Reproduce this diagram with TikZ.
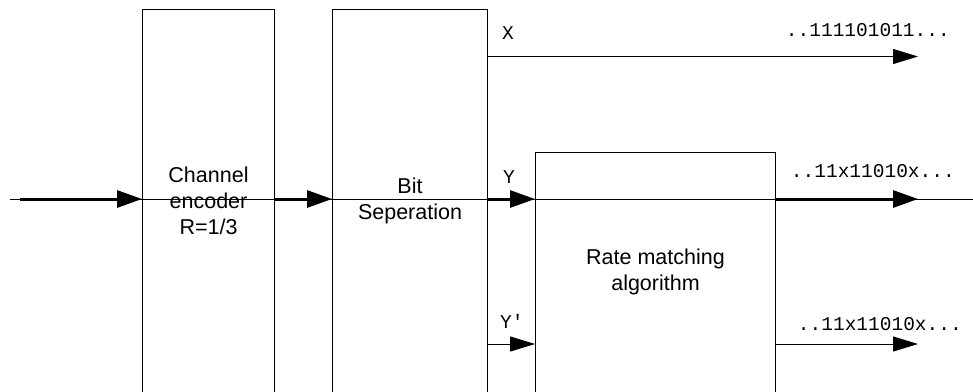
\documentclass[tikz,border=0pt]{standalone}
\usepackage{fontspec}
\setmainfont{Liberation Sans}
\setmonofont{Liberation Mono}
\usetikzlibrary{arrows.meta,positioning}

\begin{document}
\begin{tikzpicture}[x=1pt,y=-1pt,
    blk/.style={draw,line width=1pt,anchor=north west,inner sep=0pt,align=center,
      font=\fontsize{21.5}{26}\selectfont},
    flow/.style={line width=3pt,-{Triangle[length=25pt,width=17pt]}},
    tap/.style={line width=1pt,-{Triangle[length=25pt,width=15pt]}},
    bits/.style={font=\ttfamily\fontsize{19.5}{20}\selectfont,inner sep=0pt}]
  \useasboundingbox (0,0) rectangle (973,391);
  % blocks
  \node[blk,minimum width=132pt,minimum height=383pt] (enc) at (142,8.5) {Channel\\encoder\\R=1/3};
  \node[blk,minimum width=155pt,minimum height=383pt] (sep) at (332,8.5) {Bit\\Seperation};
  \node[blk,minimum width=240pt,minimum height=239.5pt] (rm) at (535,152) {Rate matching\\algorithm};
  % ends of the lines
  \coordinate (src) at (10,199);
  \coordinate (sink) at (973,199);
  \coordinate (xo) at (918,56.5);
  \coordinate (yp) at (0,344);
  % main path
  \draw[line width=1pt] (src) -- (sink);
  \draw[flow] ([xshift=10pt]src) -- (src -| enc.west);
  \draw[flow] (src -| enc.east) -- (src -| sep.west);
  \draw[flow] (src -| sep.east) -- (src -| rm.west);
  \draw[flow] (src -| rm.east) -- (src -| xo);
  % side outputs
  \draw[tap] (xo -| sep.east) -- (xo);
  \draw[tap] (yp -| sep.east) -- (yp -| rm.west);
  \draw[tap] (yp -| rm.east) -- (yp -| xo);
  % labels
  \node[bits,anchor=base west] (lx) at (502,39) {X};
  \node[bits,anchor=base west] (ly) at (503,183) {Y};
  \node[bits,anchor=base west] (lyp) at (500,328) {Y'};
  \node[bits,anchor=base east] (sx) at (950,36) {..111101011...};
  \node[bits,anchor=base east] (sy) at (955,177) {..11x11010x...};
  \node[bits,anchor=base east] (syp) at (962,330) {..11x11010x...};
\end{tikzpicture}
\end{document}
